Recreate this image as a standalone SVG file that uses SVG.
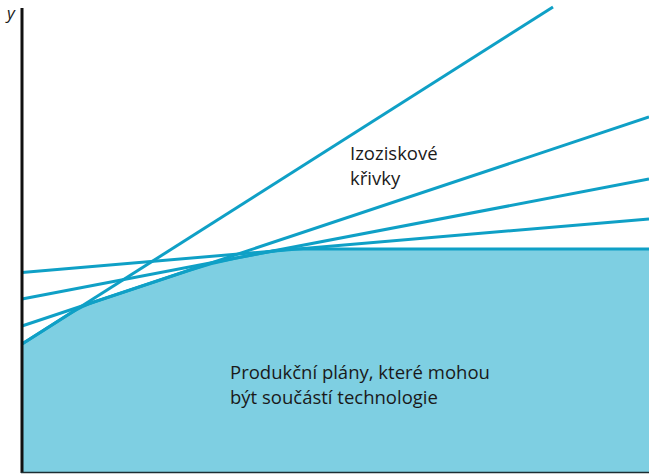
<svg xmlns="http://www.w3.org/2000/svg" width="649" height="474" viewBox="0 0 649 474">
<style>
.iso{fill:none;stroke:#0fa0c6;stroke-width:3;stroke-linecap:butt}
.lbl{font-family:"Open Sans","Noto Sans",sans-serif;font-size:18.5px;fill:#1a1a1a}
</style>
<rect width="649" height="474" fill="#ffffff"/>
<g id="production-set">
<path d="M22,344 L70,313.6 Q82,306 95,301.7 L190,270 Q212,262.7 235,258.3 L262,253 Q275,250.6 290,249 L649,249 L649,472 L22,472 Z" fill="#7ecfe2"/>
<path class="iso" d="M22,344 L70,313.6 Q82,306 95,301.7 L190,270 Q212,262.7 235,258.3 L262,253 Q275,250.6 290,249 L649,249"/>
<text class="lbl" x="230" y="379">Produkční plány, které mohou</text>
<text class="lbl" x="230" y="404">být součástí technologie</text>
</g>
<g id="connectors">
<line class="iso" x1="22" y1="344" x2="553" y2="7"/>
<line class="iso" x1="22" y1="326" x2="649" y2="117"/>
<line class="iso" x1="22" y1="299" x2="649" y2="179"/>
<line class="iso" x1="22" y1="272.5" x2="649" y2="219"/>
</g>
<g id="isoprofit-label">
<text class="lbl" x="350" y="160">Izoziskové</text>
<text class="lbl" x="350" y="185">křivky</text>
</g>
<g id="axes">
<line x1="22" y1="8" x2="22" y2="473" stroke="#111" stroke-width="3"/>
<line x1="21" y1="472.5" x2="649" y2="472.5" stroke="#1c2e33" stroke-width="1.5"/>
<text x="7" y="19" font-family="Open Sans, sans-serif" font-size="17" font-style="italic" fill="#1a1a1a">y</text>
</g>
</svg>
